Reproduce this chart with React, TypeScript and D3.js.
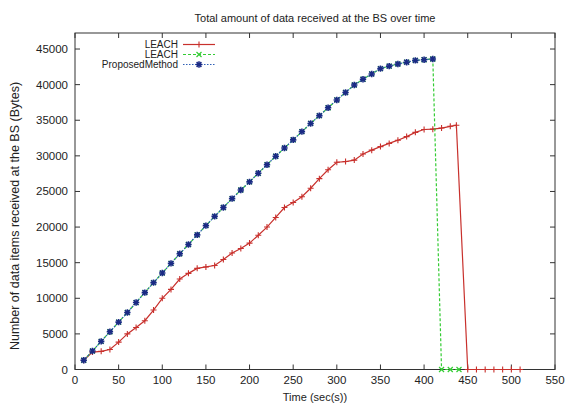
import React, { useRef, useEffect } from "react";
import * as d3 from "d3";

// time axis (sec) and received data (bytes)
const proposedTimes = [10, 20, 30, 40, 50, 60, 70, 80, 90, 100, 110, 120, 130, 140, 150, 160, 170, 180, 190, 200, 210, 220, 230, 240, 250, 260, 270, 280, 290, 300, 310, 320, 330, 340, 350, 360, 370, 380, 390, 400, 410];
const proposedValues = [1300, 2600, 3950, 5300, 6650, 8000, 9400, 10800, 12200, 13550, 14900, 16250, 17550, 18900, 20200, 21500, 22750, 24000, 25200, 26350, 27550, 28750, 29950, 31100, 32250, 33400, 34550, 35650, 36750, 37850, 38900, 39950, 40750, 41500, 42250, 42600, 42900, 43150, 43400, 43500, 43600];

const leachTimes = [10, 20, 30, 40, 50, 60, 70, 80, 90, 100, 110, 120, 130, 140, 150, 160, 170, 180, 190, 200, 210, 220, 230, 240, 250, 260, 270, 280, 290, 300, 310, 320, 330, 340, 350, 360, 370, 380, 390, 400, 410, 420, 430, 437, 450, 460, 470, 480, 490, 500, 510];
const leachValues = [1300, 2450, 2550, 2800, 3850, 5000, 5900, 6850, 8350, 10000, 11250, 12700, 13500, 14200, 14400, 14600, 15450, 16350, 17000, 17750, 18850, 20000, 21350, 22750, 23450, 24250, 25450, 26800, 28050, 29100, 29200, 29400, 30250, 30800, 31300, 31750, 32200, 32700, 33300, 33700, 33750, 33900, 34150, 34300, 0, 0, 0, 0, 0, 0, 0];

const leach2Times = [...proposedTimes, 420, 430, 440];
const leach2Values = [...proposedValues, 0, 0, 0];

const xTicks = [0, 50, 100, 150, 200, 250, 300, 350, 400, 450, 500, 550];
const yTicks = [0, 5000, 10000, 15000, 20000, 25000, 30000, 35000, 40000, 45000];

const legendLabels = ["LEACH", "LEACH", "ProposedMethod"];

const FONT = "'Liberation Sans', Arial, sans-serif";
const RED = "#c8302c";
const GREEN = "#33cc33";
const BLUE_LINE = "#2f5fb5";
const BLUE_MARK = "#1b2a85";

const Chart = () => {
    const ref = useRef(null);

    useEffect(() => {
        const svg = d3.select(ref.current);
        svg.selectAll("*").remove();

        const left = 75, right = 555, top = 33, bottom = 369.5;
        const x = d3.scaleLinear().domain([0, 550]).range([left, right]);
        const y = d3.scaleLinear().domain([0, 47250]).range([bottom, top]);

        svg.append("rect").attr("width", 566).attr("height", 404).attr("fill", "#fff");

        // title
        svg.append("text")
            .attr("x", 315).attr("y", 22)
            .attr("text-anchor", "middle")
            .attr("font-family", FONT).attr("font-size", "11px").attr("fill", "#222")
            .text("Total amount of data received at the BS over time");

        // border + ticks
        svg.append("rect")
            .attr("x", left).attr("y", top)
            .attr("width", right - left).attr("height", bottom - top)
            .attr("fill", "none").attr("stroke", "#333").attr("stroke-width", 1);

        const tickLen = 5;
        const tk = svg.append("g").attr("stroke", "#333").attr("stroke-width", 1);
        xTicks.forEach((t) => {
            tk.append("line").attr("x1", x(t)).attr("x2", x(t)).attr("y1", bottom).attr("y2", bottom - tickLen);
            tk.append("line").attr("x1", x(t)).attr("x2", x(t)).attr("y1", top).attr("y2", top + tickLen);
        });
        yTicks.forEach((t) => {
            tk.append("line").attr("x1", left).attr("x2", left + tickLen).attr("y1", y(t)).attr("y2", y(t));
            tk.append("line").attr("x1", right).attr("x2", right - tickLen).attr("y1", y(t)).attr("y2", y(t));
        });

        svg.append("g").selectAll("text").data(xTicks).enter().append("text")
            .attr("x", (d) => x(d)).attr("y", bottom + 14)
            .attr("text-anchor", "middle")
            .attr("font-family", FONT).attr("font-size", "11.5px").attr("fill", "#222")
            .text((d) => d);

        svg.append("g").selectAll("text").data(yTicks).enter().append("text")
            .attr("x", left - 7).attr("y", (d) => y(d) + 4)
            .attr("text-anchor", "end")
            .attr("font-family", FONT).attr("font-size", "11.5px").attr("fill", "#222")
            .text((d) => d);

        svg.append("text")
            .attr("x", 315).attr("y", 401)
            .attr("text-anchor", "middle")
            .attr("font-family", FONT).attr("font-size", "11px").attr("fill", "#222")
            .text("Time (sec(s))");

        svg.append("text")
            .attr("transform", `translate(19 ${216}) rotate(-90)`)
            .attr("text-anchor", "middle")
            .attr("font-family", FONT).attr("font-size", "12.5px").attr("fill", "#222")
            .text("Number of data items received at the BS (Bytes)");

        // markers
        const plus = (g, cx, cy, r, color, w) => {
            g.append("path")
                .attr("d", `M${cx - r},${cy}H${cx + r}M${cx},${cy - r}V${cy + r}`)
                .attr("stroke", color).attr("stroke-width", w).attr("fill", "none");
        };
        const cross = (g, cx, cy, r, color, w) => {
            g.append("path")
                .attr("d", `M${cx - r},${cy - r}L${cx + r},${cy + r}M${cx - r},${cy + r}L${cx + r},${cy - r}`)
                .attr("stroke", color).attr("stroke-width", w).attr("fill", "none");
        };
        const star = (g, cx, cy) => {
            plus(g, cx, cy, 3.2, BLUE_MARK, 1.6);
            cross(g, cx, cy, 2.4, BLUE_MARK, 1.6);
        };

        const line = d3.line().x((d) => x(d[0])).y((d) => y(d[1]));

        const series = [
            { times: leachTimes, values: leachValues, color: RED, dash: null, width: 1.2, mark: (g, cx, cy) => plus(g, cx, cy, 3, RED, 1.1) },
            { times: leach2Times, values: leach2Values, color: GREEN, dash: "3,2", width: 1.2, mark: (g, cx, cy) => cross(g, cx, cy, 2.5, GREEN, 1.2) },
            { times: proposedTimes, values: proposedValues, color: BLUE_LINE, dash: "1.5,1.5", width: 1.2, mark: star },
        ];

        series.forEach((s) => {
            const pts = s.times.map((t, i) => [t, s.values[i]]);
            const g = svg.append("g");
            g.append("path")
                .attr("d", line(pts))
                .attr("fill", "none")
                .attr("stroke", s.color)
                .attr("stroke-width", s.width)
                .attr("stroke-dasharray", s.dash);
            pts.forEach((p) => s.mark(g, x(p[0]), y(p[1])));
        });

        // legend
        const legendY = [44.5, 54.5, 64.5];
        series.forEach((s, i) => {
            const ly = legendY[i];
            const g = svg.append("g");
            g.append("text")
                .attr("x", 178).attr("y", ly + 3.5)
                .attr("text-anchor", "end")
                .attr("font-family", FONT).attr("font-size", "10px").attr("fill", "#222")
                .text(legendLabels[i]);
            g.append("line")
                .attr("x1", 183).attr("x2", 215).attr("y1", ly).attr("y2", ly)
                .attr("stroke", s.color).attr("stroke-width", s.width)
                .attr("stroke-dasharray", s.dash);
            s.mark(g, 199, ly);
        });
    }, []);

    return <svg ref={ref} width={566} height={404} style={{ position: "absolute", left: 0, top: 0, display: "block" }} />;
};

export default function App() {
    return <Chart />;
}
